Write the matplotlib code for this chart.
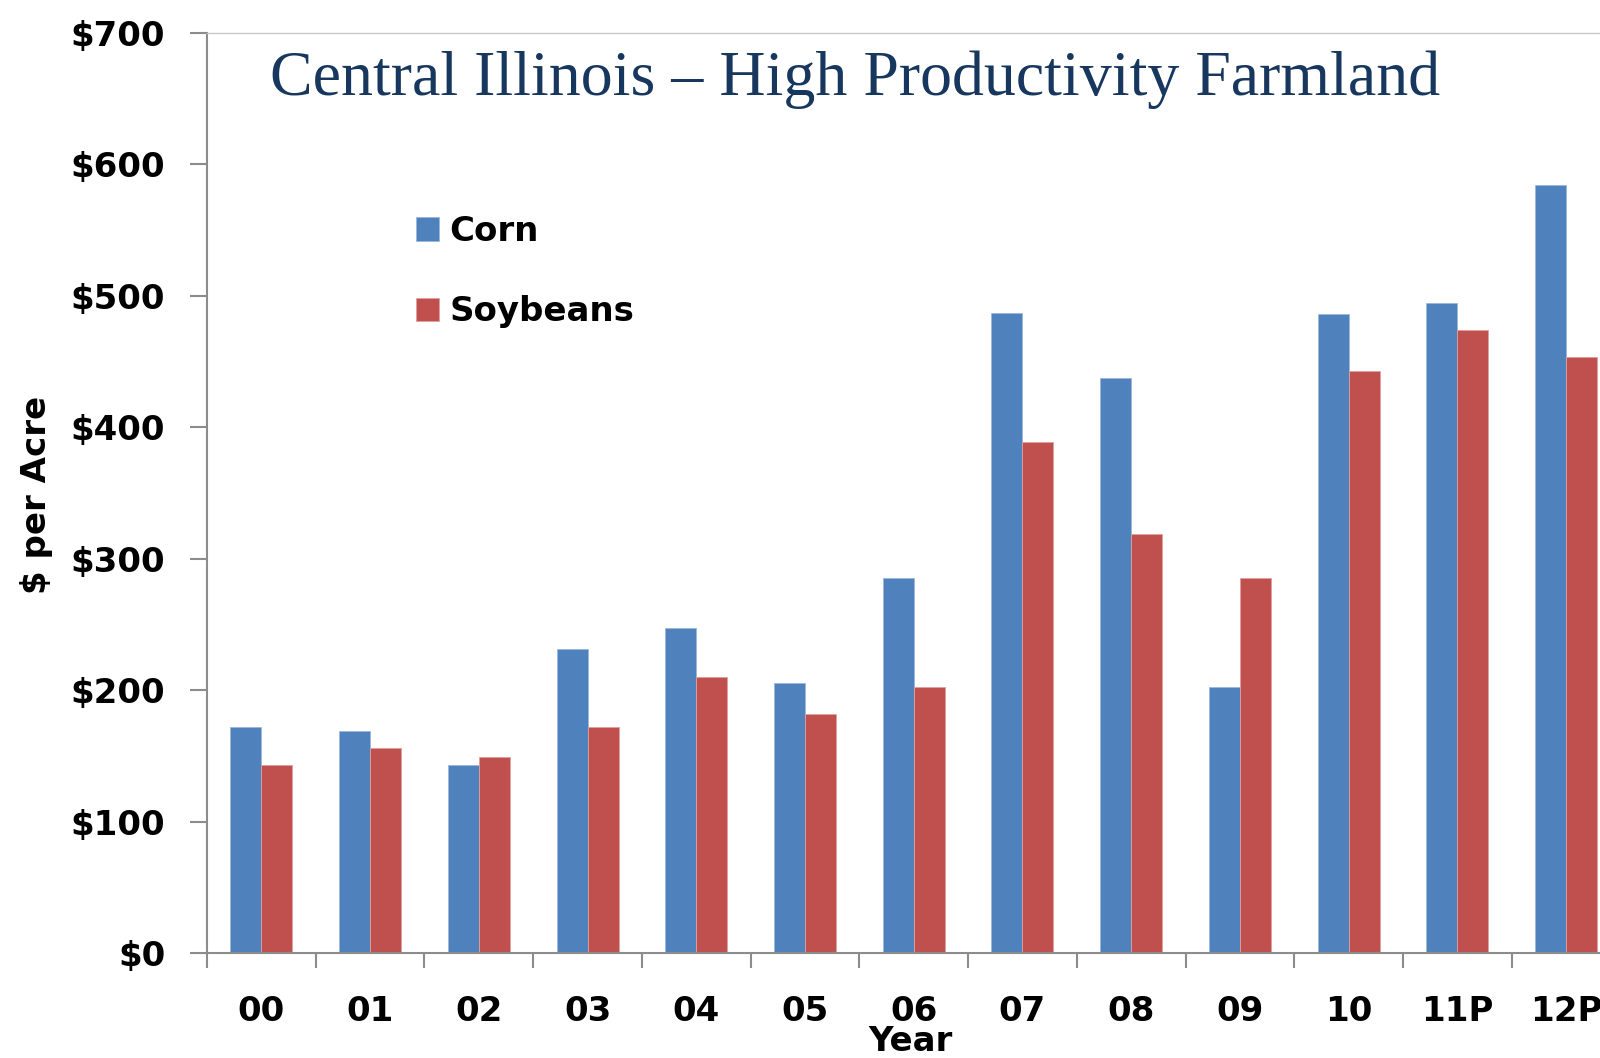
import numpy as np
import matplotlib.pyplot as plt

years = ["00", "01", "02", "03", "04", "05", "06", "07", "08", "09", "10", "11P", "12P"]
corn = [172, 169, 143, 231, 247, 205, 285, 487, 437, 202, 486, 494, 584]
soybeans = [143, 156, 149, 172, 210, 182, 202, 389, 319, 285, 443, 474, 453]
yticks = [0, 100, 200, 300, 400, 500, 600, 700]

blue = "#4f81bd"
red = "#c0504d"
label_font = ["DejaVu Sans"]
label_size = 24.5

fig = plt.figure(figsize=(16, 10.58), dpi=100)
# plot area runs past the right edge of the figure, so the last group is cut off
ax = fig.add_axes([0.1294, 0.0992, 0.8834, 0.8700])

x = np.arange(len(years))
w = 0.285
b1 = ax.bar(x - w / 2, corn, w, color=blue, edgecolor="#9bb7dd", linewidth=0.6, label="Corn")
b2 = ax.bar(x + w / 2, soybeans, w, color=red, edgecolor="#e0a09e", linewidth=0.6, label="Soybeans")

ax.set_xlim(-0.5, len(years) - 0.5)
ax.set_ylim(0, 700)

# y axis
ax.set_yticks(yticks)
ax.set_yticklabels([f"${v}" for v in yticks])
ax.tick_params(axis="y", direction="out", length=12, width=1.5, color="#8c8c8c",
               pad=18, labelsize=label_size)

# x axis: ticks between groups, labels at group centres
ax.set_xticks(np.arange(len(years) + 1) - 0.5)
ax.set_xticklabels([])
ax.set_xticks(x, minor=True)
ax.set_xticklabels(years, minor=True)
ax.tick_params(axis="x", which="major", direction="out", length=11, width=1.5, color="#8c8c8c")
ax.tick_params(axis="x", which="minor", length=0, pad=30, labelsize=label_size)

for lab in ax.get_yticklabels() + ax.get_xticklabels(minor=True):
    lab.set_fontfamily(label_font)
    lab.set_fontweight("bold")

for side in ["left", "bottom"]:
    ax.spines[side].set_color("#8c8c8c")
    ax.spines[side].set_linewidth(1.5)
ax.spines["top"].set_color("#c8c8c8")
ax.spines["top"].set_linewidth(1)
ax.spines["right"].set_visible(False)

leg = ax.legend(handles=[b1, b2], loc="upper left", bbox_to_anchor=(0.260, 0.797),
                bbox_transform=fig.transFigure, frameon=False,
                prop={"family": label_font, "weight": "bold", "size": label_size},
                handlelength=0.68, handleheight=0.68, handletextpad=0.3,
                labelspacing=1.4, borderpad=0, borderaxespad=0)

fig.text(0.169, 0.910, "Central Illinois \u2013 High Productivity Farmland",
         family=["Liberation Serif", "DejaVu Serif"], fontsize=46, color="#17375e",
         va="baseline", ha="left")

fig.text(0.023, 0.532, "$ per Acre", rotation=90, ha="center", va="center",
         family=label_font, fontweight="bold", fontsize=label_size)
fig.text(0.569, 0.016, "Year", ha="center", va="center",
         family=label_font, fontweight="bold", fontsize=label_size)

fig.savefig("out.png", dpi=100)
